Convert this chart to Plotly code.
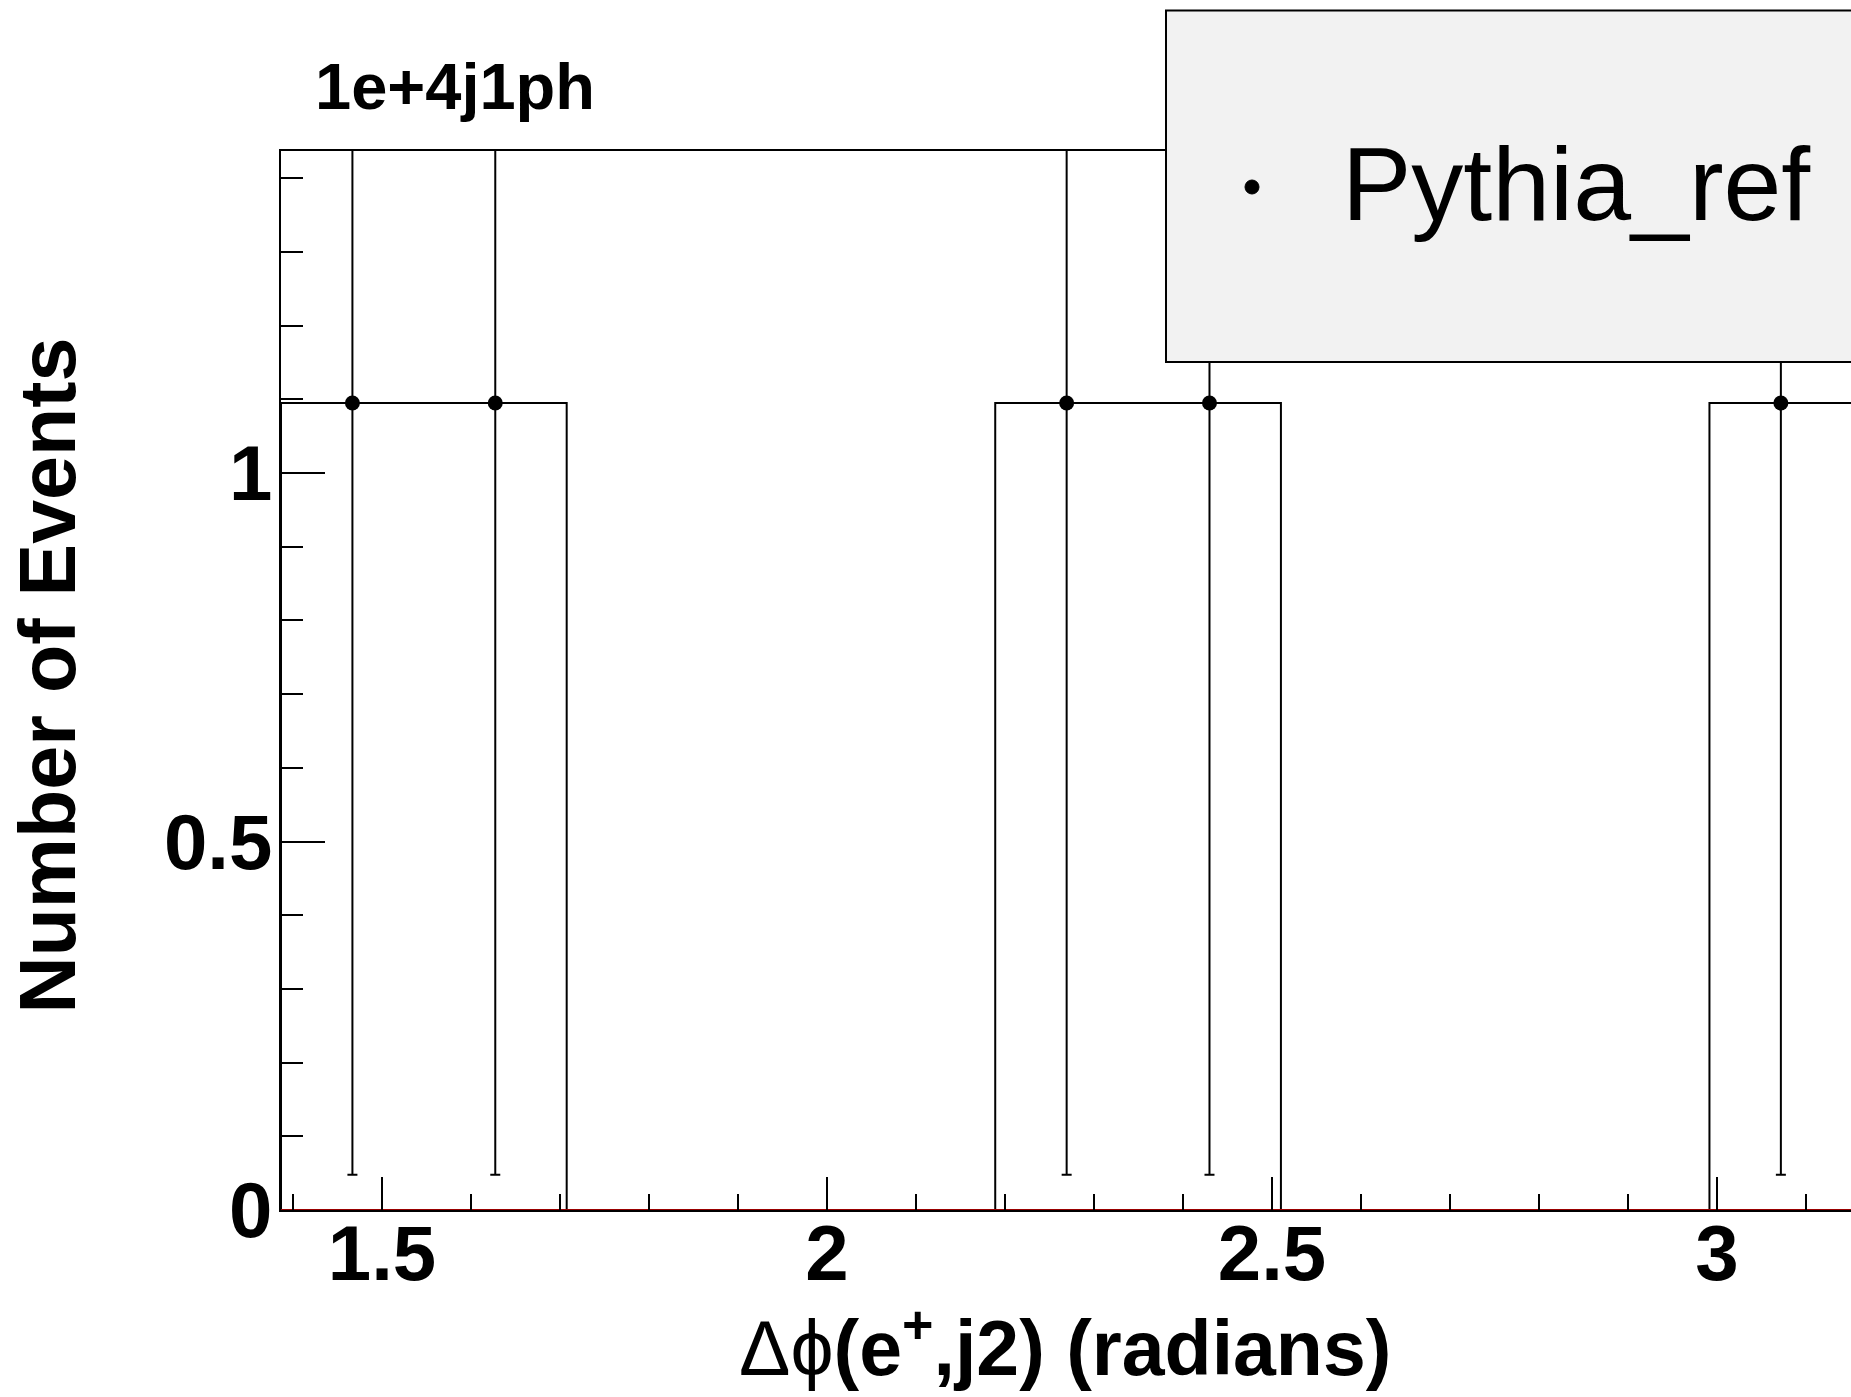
import plotly.graph_objects as go

# ---- data ----
bin_edges = [1.3865, 1.547, 1.7075, 1.868, 2.0285, 2.189, 2.3495, 2.51,
             2.6705, 2.831, 2.9915, 3.152]
bin_counts = [1.095, 1.095, 0, 0, 0, 1.095, 1.095, 0, 0, 0, 1.095]
bin_errors = [1.047, 1.047, 0, 0, 0, 1.047, 1.047, 0, 0, 0, 1.047]
x_tick_vals = [1.5, 2, 2.5, 3]
x_tick_text = ["1.5", "2", "2.5", "3"]
y_tick_vals = [0, 0.5, 1]
y_tick_text = ["0", "0.5", "1"]
series_name = "Pythia_ref"
plot_title = "1e+4j1ph"

# ---- layout geometry (pixels; page body margin removed below) ----
W, H = 1851, 1397
L, T = 281, 151
B = H - 1210
R = 0
PW, PH = W - L - R, H - T - B
PX_PER_UNIT = 890.0
XR = [1.3865, 1.3865 + PW / PX_PER_UNIT]
YR = [0, 1.437]


def px(xw):
    return (xw - L) / PW


def py(yw):
    return (H - B - yw) / PH


FONT = "Liberation Sans, Arial, Helvetica, sans-serif"

# histogram outline (step)
step_x = [bin_edges[0]] + bin_edges + [bin_edges[-1]]
step_y = [0] + bin_counts + [bin_counts[-1], 0]
step_x = step_x[:len(step_y)]

centers = [(bin_edges[i] + bin_edges[i + 1]) / 2 for i in range(len(bin_counts))]
pts_x = [c for c, v in zip(centers, bin_counts) if v > 0]
pts_y = [v for v in bin_counts if v > 0]
pts_e = [e for e, v in zip(bin_errors, bin_counts) if v > 0]

fig = go.Figure()

fig.add_trace(go.Scatter(
    x=step_x, y=step_y, mode="lines", line_shape="hv",
    line=dict(color="black", width=2), showlegend=False, hoverinfo="skip"))

fig.add_trace(go.Scatter(
    x=[bin_edges[0], bin_edges[-1]], y=[0, 0], mode="lines",
    line=dict(color="#990000", width=2), showlegend=False, hoverinfo="skip"))

fig.add_trace(go.Scatter(
    x=pts_x, y=pts_y, mode="markers", name=series_name,
    marker=dict(color="black", size=15, symbol="circle"),
    error_y=dict(type="data", array=pts_e, visible=True, color="black",
                 thickness=2, width=5),
    showlegend=False))

fig.update_layout(
    width=W, height=H,
    margin=dict(l=L, r=R, t=T, b=B, autoexpand=False),
    plot_bgcolor="white", paper_bgcolor="white",
    font=dict(family=FONT, color="black"),
    xaxis=dict(range=XR, showgrid=False, zeroline=False,
               showline=True, linecolor="black", linewidth=2, mirror=True,
               ticks="inside", ticklen=33, tickwidth=2, tickcolor="black",
               tickmode="array", tickvals=x_tick_vals, ticktext=x_tick_text,
               ticklabelstandoff=-26,
               tickfont=dict(family=FONT, size=78, weight="bold", color="black"),
               minor=dict(dtick=0.1, tick0=0, ticks="inside", ticklen=16,
                          tickwidth=2, tickcolor="black", showgrid=False)),
    yaxis=dict(range=YR, showgrid=False, zeroline=False,
               showline=True, linecolor="black", linewidth=2, mirror=False,
               ticks="inside", ticklen=44, tickwidth=2, tickcolor="black",
               tickmode="array", tickvals=y_tick_vals, ticktext=y_tick_text,
               ticklabelstandoff=-9,
               tickfont=dict(family=FONT, size=78, weight="bold", color="black"),
               minor=dict(dtick=0.1, tick0=0, ticks="inside", ticklen=22,
                          tickwidth=2, tickcolor="black", showgrid=False)),
)

shapes = [
    dict(type="rect", xref="paper", yref="paper",
         x0=px(1166), x1=1.1, y0=py(362), y1=py(10.6),
         fillcolor="#f2f2f2", line=dict(color="black", width=2), layer="above"),
    dict(type="circle", xref="paper", yref="paper",
         x0=px(1245), x1=px(1259), y0=py(194), y1=py(180),
         fillcolor="black", line=dict(color="black", width=1), layer="above"),
]
fig.update_layout(shapes=shapes)

annotations = [
    dict(text=plot_title, xref="paper", yref="paper", x=px(313), y=py(86.5),
         xanchor="left", yanchor="middle", showarrow=False,
         font=dict(family=FONT, size=65, weight="bold", color="black")),
    dict(text=series_name, xref="paper", yref="paper", x=px(1340), y=py(184),
         xanchor="left", yanchor="middle", showarrow=False,
         font=dict(family=FONT, size=104, color="black")),
    dict(text="<span style='font-weight:normal'>Δϕ</span>(e<sup>+</sup>,j2) (radians)",
         xref="paper", yref="paper", x=px(1064.5), y=py(1342),
         xanchor="center", yanchor="middle", showarrow=False,
         font=dict(family=FONT, size=77, weight="bold", color="black")),
    dict(text="Number of Events", xref="paper", yref="paper", x=px(47), y=py(675.5),
         xanchor="center", yanchor="middle", showarrow=False, textangle=-90,
         font=dict(family=FONT, size=79, weight="bold", color="black")),
]
fig.update_layout(annotations=annotations)

fig.write_html(
    "out.html",
    config={"displayModeBar": False},
    post_script="document.body.style.margin='0';document.body.style.overflow='hidden';")
